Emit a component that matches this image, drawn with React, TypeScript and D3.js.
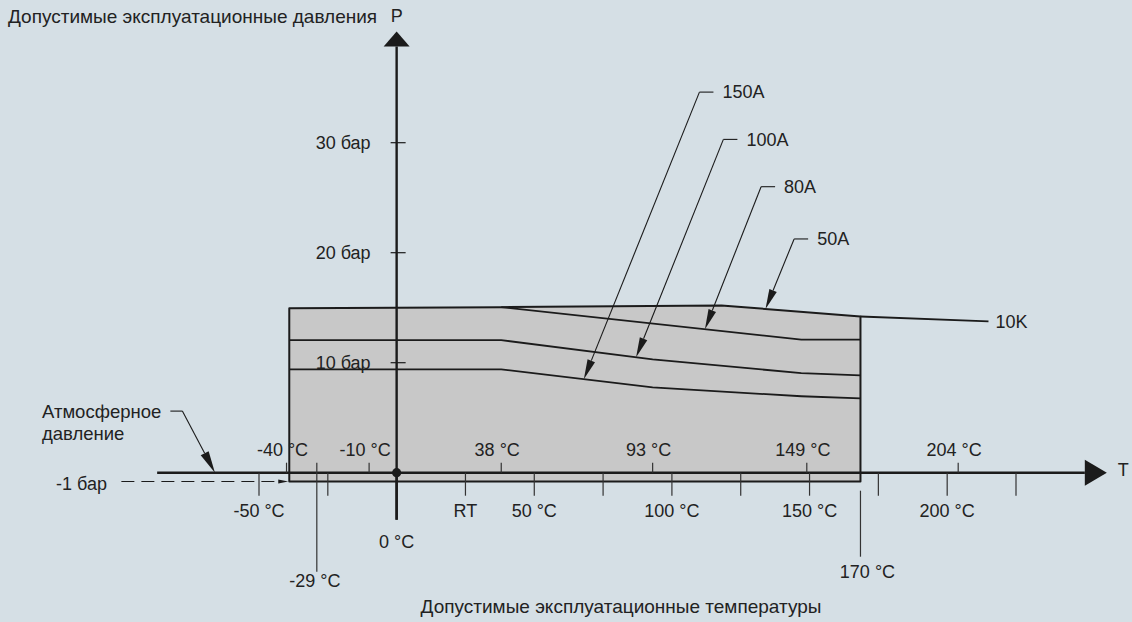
import React from "react";
import * as d3 from "d3";

// ---------- data (°C, bar) ----------
const lowerTickTemps = [-50, -25, 0, 25, 50, 75, 100, 125, 150, 175, 200, 225];
const lowerLabelTemps = [-50, 25, 50, 100, 150, 200];
const lowerLabelTexts = ["-50 °C", "RT", "50 °C", "100 °C", "150 °C", "200 °C"];
const upperTickTemps = [-40, -10, 38, 93, 149, 204];
const upperLabelTexts = ["-40 °C", "-10 °C", "38 °C", "93 °C", "149 °C", "204 °C"];
const pressureTicks = [10, 20, 30];
const pressureLabels = ["10 бар", "20 бар", "30 бар"];

const minTemp = -39;
const maxTemp = 168.5;
const vacuumPressure = -1;
const markTemps = [-29, 168.5];
const markTexts = ["-29 °C", "170 °C"];

// limit curves
const topT = [-39, 38, 118, 168.5];
const topP = [14.95, 15.05, 15.2, 14.2];
const k10T = [168.5, 215];
const k10P = [14.2, 13.75];
const a80T = [38, 147, 168.5];
const a80P = [15.05, 12.1, 12.1];
const a100T = [-39, 38, 93, 147, 168.5];
const a100P = [12.05, 12.05, 10.3, 9.05, 8.85];
const a150T = [-39, 38, 93, 147, 168.5];
const a150P = [9.4, 9.4, 7.75, 6.95, 6.75];

// annotations
const annotLabels = ["150A", "100A", "80A", "50A"];
const annotTipTemps = [68, 87, 112, 134];
const annotStartT = [110, 118.7, 132.4, 144.4];
const annotStartP = [34.6, 30.3, 26.0, 21.25];

const FONT = "'Liberation Sans', Arial, sans-serif";
const INK = "#1b1b1b";
const TXT = "#222";

type Pt = [number, number];
const zip = (T: number[], P: number[]): Pt[] => T.map((t, i) => [t, P[i]] as Pt);

function interp(curve: Pt[], t: number): number {
  for (let i = 0; i < curve.length - 1; i++) {
    const [t0, p0] = curve[i];
    const [t1, p1] = curve[i + 1];
    if (t >= t0 && t <= t1) return p0 + ((t - t0) / (t1 - t0)) * (p1 - p0);
  }
  return curve[curve.length - 1][1];
}

function arrowHead(fx: number, fy: number, tx: number, ty: number, L: number, w: number) {
  const dx = tx - fx, dy = ty - fy;
  const len = Math.hypot(dx, dy);
  const ux = dx / len, uy = dy / len;
  const bx = tx - ux * L, by = ty - uy * L;
  const nx = -uy, ny = ux;
  return {
    base: [bx, by] as Pt,
    points: `${tx},${ty} ${bx + (nx * w) / 2},${by + (ny * w) / 2} ${bx - (nx * w) / 2},${by - (ny * w) / 2}`,
  };
}

export default function App() {
  const W = 1132, H = 622;
  const x = d3.scaleLinear().domain([-50, 225]).range([259, 1016]);
  const y = d3.scaleLinear().domain([-1, 0, 30]).range([481.5, 472.7, 142.7]);
  const line = d3.line<Pt>().x((d) => x(d[0])).y((d) => y(d[1]));

  const top = zip(topT, topP);
  const k10 = zip(k10T, k10P);
  const a80 = zip(a80T, a80P);
  const a100 = zip(a100T, a100P);
  const a150 = zip(a150T, a150P);
  const annotCurves = [a150, a100, a80, top];

  const boxPath =
    line([...top, [maxTemp, vacuumPressure], [minTemp, vacuumPressure]] as Pt[]) + "Z";

  const x0 = x(0);
  const y0 = y(0);

  // axes extents
  const xAxisFrom = x(-87);
  const xArrowTip = x(258);
  const xArrow = arrowHead(xAxisFrom, y0, xArrowTip, y0, 22, 26);
  const yAxisBottom = y0 + 47;
  const yArrowTip = y(40.1);
  const yArrow = arrowHead(x0, yAxisBottom, x0, yArrowTip, 15, 26);

  // atmospheric arrow
  const atmTickX0 = x(-82.2);
  const atmTickY = y(5.6);
  const atmLeadX = atmTickX0 + 12;
  const atmTipX = x(-66);
  const atmArrow = arrowHead(atmLeadX, atmTickY, atmTipX, y0, 22, 9);

  // vacuum dashed arrow
  const vacFrom = x(-100);
  const vacTip = x(minTemp) - 1;
  const vacY = y(vacuumPressure);
  const vacArrow = arrowHead(vacFrom, vacY, vacTip, vacY, 10, 4);

  return (
    <svg width={W} height={H} style={{ display: "block", position: "absolute", left: 0, top: 0 }}
      fontFamily={FONT}>
      <rect width={W} height={H} fill="#d5dfe5" />

      {/* titles */}
      <text x={8} y={16} dy="0.35em" fontSize={19} fill={TXT}>Допустимые эксплуатационные давления</text>
      <text x={x0} y={16} dy="0.35em" fontSize={18} fill={TXT} textAnchor="middle">P</text>
      <text x={621} y={606} dy="0.35em" fontSize={19} fill={TXT} textAnchor="middle">Допустимые эксплуатационные температуры</text>

      {/* operating area */}
      <path d={boxPath} fill="#c8c8c8" stroke={INK} strokeWidth={2} strokeLinejoin="round" />
      <path d={line(k10)!} fill="none" stroke={INK} strokeWidth={1.8} />
      {[a80, a100, a150].map((c, i) => (
        <path key={i} d={line(c)!} fill="none" stroke={INK} strokeWidth={1.8} />
      ))}
      <text x={x(215) + 7} y={y(13.75)} dy="0.35em" fontSize={18} fill={TXT}>10K</text>

      {/* pressure axis */}
      <line x1={x0} x2={x0} y1={yAxisBottom} y2={yArrow.base[1]} stroke={INK} strokeWidth={2.4} />
      <polygon points={yArrow.points} fill={INK} />
      {pressureTicks.map((p, i) => (
        <g key={p}>
          <line x1={x0 - 6} x2={x0 + 9} y1={y(p)} y2={y(p)} stroke={INK} strokeWidth={1.2} />
          <text x={x0 - 26} y={y(p)} dy="0.35em" fontSize={18} fill={TXT} textAnchor="end">{pressureLabels[i]}</text>
        </g>
      ))}

      {/* temperature axis */}
      <line x1={xAxisFrom} x2={xArrow.base[0]} y1={y0} y2={y0} stroke={INK} strokeWidth={2.4} />
      <polygon points={xArrow.points} fill={INK} />
      <text x={xArrowTip + 11} y={y0 - 3} dy="0.35em" fontSize={18} fill={TXT}>T</text>
      {lowerTickTemps.map((t) => (
        <line key={t} x1={x(t)} x2={x(t)} y1={y0} y2={y0 + 23} stroke="#333" strokeWidth={1.2} />
      ))}
      {lowerLabelTemps.map((t, i) => (
        <text key={t} x={x(t)} y={y0 + 38} dy="0.35em" fontSize={18} fill={TXT} textAnchor="middle">{lowerLabelTexts[i]}</text>
      ))}
      {upperTickTemps.map((t, i) => (
        <g key={t}>
          <line x1={x(t)} x2={x(t)} y1={y0 - 10} y2={y0} stroke="#333" strokeWidth={1.2} />
          <text x={x(t) - 4} y={y0 - 23} dy="0.35em" fontSize={18} fill={TXT} textAnchor="middle">{upperLabelTexts[i]}</text>
        </g>
      ))}
      <line x1={x0} x2={x0} y1={y0} y2={yAxisBottom} stroke={INK} strokeWidth={2.4} />
      <circle cx={x0} cy={y0} r={4.6} fill={INK} />
      <text x={x0} y={y0 + 69} dy="0.35em" fontSize={18} fill={TXT} textAnchor="middle">0 °C</text>

      {/* -29 °C and 170 °C markers */}
      <line x1={x(markTemps[0])} x2={x(markTemps[0])} y1={y0 - 10} y2={y0 + 99} stroke="#333" strokeWidth={1.2} />
      <text x={x(markTemps[0]) - 2} y={y0 + 108} dy="0.35em" fontSize={18} fill={TXT} textAnchor="middle">{markTexts[0]}</text>
      <line x1={x(markTemps[1])} x2={x(markTemps[1])} y1={y0 + 18} y2={y0 + 84} stroke="#333" strokeWidth={1.2} />
      <text x={x(markTemps[1]) + 7} y={y0 + 99} dy="0.35em" fontSize={18} fill={TXT} textAnchor="middle">{markTexts[1]}</text>

      {/* atmospheric pressure */}
      <text x={42} y={412} dy="0.35em" fontSize={18.5} fill={TXT}>Атмосферное</text>
      <text x={42} y={434} dy="0.35em" fontSize={18.5} fill={TXT}>давление</text>
      <line x1={atmTickX0} x2={atmLeadX} y1={atmTickY} y2={atmTickY} stroke={INK} strokeWidth={1.1} />
      <line x1={atmLeadX} y1={atmTickY} x2={atmArrow.base[0]} y2={atmArrow.base[1]} stroke={INK} strokeWidth={1.1} />
      <polygon points={atmArrow.points} fill={INK} />

      {/* vacuum */}
      <text x={107} y={484} dy="0.35em" fontSize={18} fill={TXT} textAnchor="end">-1 бар</text>
      <line x1={vacFrom} x2={vacArrow.base[0]} y1={vacY} y2={vacY} stroke={INK} strokeWidth={1.1} strokeDasharray="13 7" />
      <polygon points={vacArrow.points} fill={INK} />

      {/* curve annotations */}
      {annotLabels.map((lab, i) => {
        const sx = x(annotStartT[i]);
        const sy = y(annotStartP[i]);
        const tt = annotTipTemps[i];
        const tx = x(tt);
        const ty = y(interp(annotCurves[i], tt));
        const ah = arrowHead(sx, sy, tx, ty, 20, 8);
        return (
          <g key={lab}>
            <line x1={sx} x2={sx + 14} y1={sy} y2={sy} stroke={INK} strokeWidth={1.1} />
            <line x1={sx} y1={sy} x2={ah.base[0]} y2={ah.base[1]} stroke={INK} strokeWidth={1.1} />
            <polygon points={ah.points} fill={INK} />
            <text x={sx + 23} y={sy} dy="0.35em" fontSize={18} fill={TXT}>{lab}</text>
          </g>
        );
      })}
    </svg>
  );
}
